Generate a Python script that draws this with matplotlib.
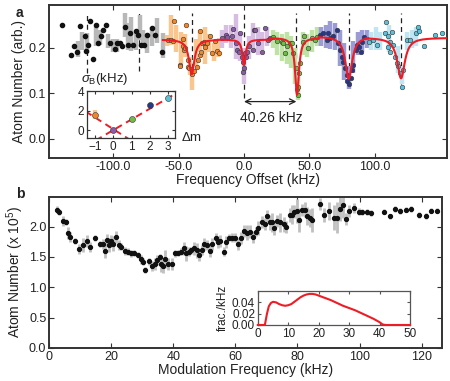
import numpy as np
import matplotlib
matplotlib.use("Agg")
import matplotlib.pyplot as plt

plt.rcParams['font.family'] = ['Liberation Sans', 'DejaVu Sans']
plt.rcParams['mathtext.fontset'] = 'custom'
plt.rcParams['mathtext.rm'] = 'Liberation Sans'
plt.rcParams['mathtext.it'] = 'Liberation Sans:italic'

# ---------------- Panel a data ----------------
bk_x = [-139, -132.5, -130, -127.4, -125.4, -121.6, -120.8, -119, -117.7, -115.7, -113.4, -111.4,
        -109.3, -107.5, -105.5, -102.4, -98.6, -96.8, -94.8, -93.3, -91, -88.7, -87, -85, -82.8,
        -81, -79, -76.5, -74.4, -70.6, -68, -63]
bk_y = [0.251, 0.185, 0.203, 0.19, 0.247, 0.225, 0.192, 0.207, 0.258, 0.175, 0.25, 0.21,
        0.225, 0.24, 0.251, 0.21, 0.197, 0.21, 0.21, 0.204, 0.245, 0.207, 0.232, 0.206, 0.236,
        0.229, 0.207, 0.207, 0.229, 0.243, 0.229, 0.19]
bkb_x = [-127, -123.5, -120, -113, -110, -104, -100.5, -97, -91, -88.5, -86, -82.5, -79.5, -77, -74.4, -70.5, -66.8, -62.2]
bkb_c = [0.197, 0.215, 0.21, 0.225, 0.223, 0.215, 0.205, 0.205, 0.25, 0.225, 0.23, 0.215, 0.245, 0.22, 0.21, 0.225, 0.238, 0.205]
bkb_e = [0.018, 0.02, 0.022, 0.02, 0.017, 0.016, 0.015, 0.015, 0.026, 0.03, 0.037, 0.02, 0.028, 0.018, 0.022, 0.02, 0.028, 0.028]

or_x = [-58.3, -56, -54, -53.5, -49, -48.7, -47, -46.4, -46, -45, -44.6, -43, -42.6, -41.8, -40,
        -38.5, -36, -35.4, -34, -33.6, -33, -32, -30.4, -29.8, -28.5, -26, -24.7, -22, -20.4, -18.9]
or_y = [0.218, 0.217, 0.215, 0.259, 0.162, 0.16, 0.219, 0.204, 0.196, 0.199, 0.25, 0.158, 0.173,
        0.155, 0.142, 0.15, 0.158, 0.174, 0.184, 0.236, 0.191, 0.21, 0.213, 0.201, 0.21, 0.225,
        0.188, 0.215, 0.193, 0.189]
orb_x = [-59, -55.5, -52, -48.5, -45, -41.5, -39.5, -37, -33.5, -30, -26.5, -23, -20]
orb_c = [0.215, 0.24, 0.22, 0.2, 0.205, 0.16, 0.128, 0.19, 0.215, 0.205, 0.21, 0.19, 0.2]
orb_e = [0.012, 0.033, 0.03, 0.035, 0.025, 0.02, 0.02, 0.03, 0.025, 0.04, 0.02, 0.02, 0.02]

pu_x = [-17, -14, -12.7, -9.4, -8.2, -6, -5.1, -4.1, -3.1, -1.8, -1, -0.5, 0.2, 0.8, 1.5, 2, 4,
        7.1, 7.6, 8.4, 11, 13.5, 16, 18.6, 20]
pu_y = [0.222, 0.228, 0.224, 0.226, 0.241, 0.21, 0.195, 0.191, 0.233, 0.18, 0.169, 0.146, 0.156,
        0.188, 0.18, 0.191, 0.205, 0.195, 0.24, 0.24, 0.21, 0.191, 0.243, 0.217, 0.222]
pub_x = [-17, -13.5, -10, -6.5, -3, 0, 3.5, 7, 10.5, 14, 17.5]
pub_c = [0.22, 0.23, 0.225, 0.225, 0.2, 0.16, 0.2, 0.225, 0.215, 0.215, 0.225]
pub_e = [0.02, 0.02, 0.025, 0.05, 0.03, 0.04, 0.025, 0.03, 0.03, 0.02, 0.02]

gr_x = [22.4, 25, 28.8, 30, 31.3, 32.6, 35, 36.5, 37.2, 39.5, 40.3, 41, 41.5, 42.3, 42.8, 44.9,
        45.9, 48.7, 51.7, 54.3, 56]
gr_y = [0.223, 0.215, 0.213, 0.21, 0.188, 0.204, 0.21, 0.21, 0.188, 0.155, 0.109, 0.114, 0.096,
        0.144, 0.166, 0.213, 0.226, 0.199, 0.221, 0.217, 0.224]
grb_x = [22, 25.5, 29, 32.5, 36, 39, 41, 45, 48.5, 52, 55.5]
grb_c = [0.22, 0.21, 0.2, 0.2, 0.19, 0.16, 0.11, 0.21, 0.205, 0.215, 0.225]
grb_e = [0.02, 0.025, 0.03, 0.035, 0.035, 0.04, 0.025, 0.025, 0.025, 0.025, 0.02]

bl_x = [58, 60.5, 63.2, 64.5, 65.7, 68, 70.8, 72.1, 73.4, 74.7, 76, 77.2, 78.5, 79, 80.5, 81.6,
        82.3, 83.6, 85.6, 86.6, 88.2, 89.2, 90, 91.7]
bl_y = [0.227, 0.232, 0.218, 0.232, 0.221, 0.225, 0.24, 0.21, 0.195, 0.18, 0.169, 0.155, 0.14,
        0.127, 0.12, 0.133, 0.151, 0.162, 0.195, 0.206, 0.202, 0.191, 0.213, 0.224]
blb_x = [59, 62.5, 66, 69.5, 73, 76.5, 80, 83.5, 87, 90.5, 94]
blb_c = [0.225, 0.225, 0.228, 0.225, 0.2, 0.17, 0.135, 0.18, 0.21, 0.215, 0.22]
blb_e = [0.02, 0.025, 0.03, 0.03, 0.04, 0.04, 0.025, 0.035, 0.025, 0.025, 0.02]

cy_x = [95.8, 98.4, 102, 107.8, 108.6, 110.3, 110.3, 111.6, 111.6, 112.9, 114.1, 115.4, 116.7,
        118, 119.3, 120.6, 121.8, 124.4, 127, 131.5, 132.8, 134, 137.6, 146, 151]
cy_y = [0.213, 0.218, 0.207, 0.233, 0.257, 0.226, 0.202, 0.213, 0.191, 0.235, 0.206, 0.18, 0.167,
        0.16, 0.144, 0.114, 0.151, 0.217, 0.217, 0.233, 0.246, 0.237, 0.204, 0.228, 0.232]
cyb_x = [97, 100.5, 104, 111, 117.5, 121, 124.5, 128, 131.5]
cyb_c = [0.215, 0.22, 0.215, 0.22, 0.175, 0.14, 0.215, 0.22, 0.225]
cyb_e = [0.02, 0.025, 0.02, 0.03, 0.03, 0.02, 0.02, 0.02, 0.02]

# Lorentzian fit parameters per resonance: center, baseline, minimum, half-width, range
fit_center = [-40, 0, 40.5, 80, 120]
fit_base = [0.218, 0.218, 0.222, 0.225, 0.222]
fit_min = [0.142, 0.162, 0.097, 0.132, 0.133]
fit_hw = [2.5, 1.5, 1.8, 3.2, 3.5]
fit_lo = [-62, -20, 20, 57, 93]
fit_hi = [-20, 20, 57, 95, 155]

res_lines = [-120, -80, -40, 0, 40, 80, 120]
res_bottom = [0.145, 0.15, 0.135, 0.09, 0.1, 0.118, 0.12]

# inset a
dm = [-1, 0, 1, 2, 3]
sigB = [1.57, 0.05, 1.17, 2.57, 3.33]
sigB_err = [0.45, 0.0, 0.0, 0.0, 0.0]

# ---------------- Panel b data ----------------
mod_f = [2.4, 3.2, 4.5, 5.4, 6.1, 6.7, 8.4, 9.7, 10.8, 12.1, 13.2, 14.9, 16.4, 17.3, 18.1, 18.6,
         19.4, 20.1, 20.7, 21.4, 22.4, 23.2, 24.3, 25.4, 26.4, 27.5, 28.6, 29.7, 30.4, 31.0, 32.1,
         33.2, 34.0, 34.7, 35.6, 36.1, 36.7, 37.4, 38.3, 39.7, 40.5, 41.5, 42.4, 43.4, 44.2, 45.1,
         45.8, 46.7, 47.5, 48.3, 49.1, 49.8, 50.7, 51.8, 52.6, 53.7, 54.5, 55.2, 56.3, 57.0, 58.0,
         58.8, 59.9, 61.0, 61.7, 62.8, 63.9, 64.7, 65.6, 66.7, 67.4, 68.5, 69.4, 70.1, 71.0, 71.7,
         72.5, 73.4, 74.4, 75.5, 76.4, 77.5, 78.2, 79.0, 79.8, 80.4, 81.4, 82.5, 83.1, 83.9, 84.7,
         87.2, 88.5, 90.1, 91.7, 92.8, 93.6, 94.7, 95.5, 96.5, 98.2, 99.8, 100.9, 102.3, 103.8,
         107.9, 109.8, 111.3, 113.0, 114.9, 116.7, 119.2, 121.4, 123.0, 124.9]
atoms = [2.28, 2.24, 2.09, 2.08, 1.89, 1.83, 1.76, 1.63, 1.70, 1.76, 1.66, 1.81, 1.71, 1.71, 1.60,
         1.78, 1.70, 1.76, 1.72, 1.83, 1.70, 1.67, 1.60, 1.59, 1.56, 1.56, 1.53, 1.46, 1.42, 1.29,
         1.43, 1.35, 1.39, 1.45, 1.50, 1.38, 1.35, 1.46, 1.38, 1.38, 1.56, 1.56, 1.59, 1.64, 1.56,
         1.59, 1.61, 1.64, 1.61, 1.53, 1.62, 1.71, 1.70, 1.60, 1.71, 1.82, 1.74, 1.76, 1.59, 1.75,
         1.82, 1.82, 1.82, 1.72, 1.81, 1.93, 1.90, 1.92, 1.83, 1.92, 1.98, 2.07, 2.04, 2.17, 2.07,
         2.07, 1.98, 2.09, 2.07, 2.04, 2.00, 2.19, 2.20, 2.25, 2.26, 2.11, 2.28, 2.28, 2.17, 2.14,
         2.11, 2.37, 2.19, 2.26, 2.15, 2.15, 2.29, 2.35, 2.13, 2.26, 2.31, 2.25, 2.24, 2.24, 2.22,
         2.25, 2.17, 2.29, 2.26, 2.28, 2.29, 2.19, 2.18, 2.26, 2.26]
atoms_err = [0.06, 0.05, 0.08, 0.05, 0.1, 0.08, 0.05, 0.08, 0.12, 0.1, 0.08, 0.05, 0.05, 0.08, 0.12,
             0.1, 0.12, 0.1, 0.12, 0.1, 0.08, 0.06, 0.06, 0.05, 0.06, 0.05, 0.05, 0.08, 0.06, 0.05,
             0.06, 0.08, 0.1, 0.08, 0.05, 0.12, 0.12, 0.15, 0.1, 0.1, 0.06, 0.05, 0.06, 0.1, 0.12,
             0.08, 0.06, 0.1, 0.12, 0.1, 0.08, 0.1, 0.08, 0.1, 0.1, 0.08, 0.1, 0.1, 0.08, 0.1,
             0.06, 0.08, 0.08, 0.1, 0.1, 0.1, 0.12, 0.1, 0.1, 0.08, 0.12, 0.1, 0.1, 0.1, 0.12,
             0.15, 0.12, 0.1, 0.15, 0.12, 0.1, 0.12, 0.15, 0.1, 0.2, 0.2, 0.1, 0.12, 0.15, 0.15,
             0.2, 0.1, 0.12, 0.15, 0.2, 0.25, 0.2, 0.2, 0.1, 0.1, 0.08, 0.05, 0.05, 0.05, 0.05,
             0.04, 0.04, 0.05, 0.05, 0.04, 0.05, 0.05, 0.05, 0.04, 0.04]

# inset b curve
dist_f = [0, 2.3, 3.0, 3.6, 4.3, 5.0, 6.0, 7.0, 8.0, 9.0, 10.0, 11.0, 12.0, 13.0, 14.0, 15.0,
          16.0, 17.0, 18.0, 19.0, 20.0, 22.0, 24.0, 26.0, 28.0, 30.0, 32.0, 34.0, 36.0, 38.0,
          40.0, 41.0, 42.0, 50.0]
dist_v = [0, 0, 0.020, 0.033, 0.039, 0.041, 0.040, 0.037, 0.035, 0.034, 0.035, 0.037, 0.041,
          0.045, 0.049, 0.052, 0.054, 0.055, 0.055, 0.054, 0.052, 0.048, 0.044, 0.039, 0.034,
          0.030, 0.026, 0.021, 0.016, 0.011, 0.005, 0.001, 0, 0]

# ---------------- Drawing ----------------
fig = plt.figure(figsize=(4.5, 3.81), dpi=100)
TXT = '#222222'
FS = 9
LFS = 10

def style_ax(ax, lw=1.4, col='#333333', tl=3.5, fs=FS):
    for s in ax.spines.values():
        s.set_linewidth(lw)
        s.set_color(col)
    ax.tick_params(direction='in', top=True, right=True, length=tl, width=0.8,
                   labelsize=fs, colors=col, labelcolor=TXT, pad=2)

axa = fig.add_axes([0.109, 0.585, 0.884, 0.402])
style_ax(axa)

for x0, y1 in zip(res_lines, res_bottom):
    axa.plot([x0, x0], [y1, 0.276], ls=(0, (4, 3)), color='#222222', lw=0.9, zorder=1)

groups = [
    (bkb_x, bkb_c, bkb_e, bk_x, bk_y, '#b8b8b8', '#111111'),
    (orb_x, orb_c, orb_e, or_x, or_y, '#fbc68e', '#f0862a'),
    (pub_x, pub_c, pub_e, pu_x, pu_y, '#d7bde2', '#8a5aa6'),
    (grb_x, grb_c, grb_e, gr_x, gr_y, '#bfe2a6', '#6bbd46'),
    (blb_x, blb_c, blb_e, bl_x, bl_y, '#9b9bd6', '#27388c'),
    (cyb_x, cyb_c, cyb_e, cy_x, cy_y, '#bfe6f2', '#5cc0d6'),
]
for bx, bc, be, px, py, bcol, pcol in groups:
    axa.errorbar(bx, bc, yerr=be, fmt='none', ecolor=bcol, elinewidth=3.2, capsize=0, zorder=2)
for bx, bc, be, px, py, bcol, pcol in groups:
    if pcol == '#111111':
        axa.plot(px, py, 'o', ms=3.0, color=pcol, mec=pcol, zorder=4)
    else:
        axa.plot(px, py, 'o', ms=3.3, color=pcol, mec='#333333', mew=0.4, zorder=4)

for c, b, m, w, lo, hi in zip(fit_center, fit_base, fit_min, fit_hw, fit_lo, fit_hi):
    xx = np.linspace(lo, hi, 400)
    yy = b - (b - m) / (1 + ((xx - c) / w) ** 2)
    axa.plot(xx, yy, color='#ee1c25', lw=1.5, zorder=5)

axa.annotate('', xy=(0, 0.082), xytext=(40, 0.082),
             arrowprops=dict(arrowstyle='<->', color='#222222', lw=0.9, shrinkA=0, shrinkB=0))
axa.text(21, 0.047, '40.26 kHz', ha='center', va='center', fontsize=10, color=TXT)

axa.set_xlim(-149, 155)
axa.set_ylim(-0.042, 0.294)
axa.set_xticks([-100, -50, 0, 50, 100])
axa.set_xticklabels(['-100.0', '-50.0', '0.0', '50.0', '100.0'])
axa.set_yticks([0.0, 0.1, 0.2])
axa.set_yticklabels(['0.0', '0.1', '0.2'])
axa.set_xlabel('Frequency Offset (kHz)', fontsize=LFS, color=TXT, labelpad=0)
axa.set_ylabel('Atom Number (arb.)', fontsize=LFS, color=TXT, labelpad=2)
fig.text(0.035, 0.965, 'a', fontsize=10, fontweight='bold', color=TXT, ha='left', va='center')

# inset a
axi = fig.add_axes([0.193, 0.638, 0.196, 0.123])
style_ax(axi, lw=0.9, col='#333333', tl=2.5, fs=8.5)
xl = np.array([-1.5, 3.4])
axi.plot(xl, -1.2 * xl + 0.1, color='#ee1c25', lw=1.4, ls=(0, (3.5, 2.5)), zorder=1)
axi.plot(xl, 1.1 * xl, color='#ee1c25', lw=1.4, ls=(0, (3.5, 2.5)), zorder=1)
icols = ['#f0862a', '#8a5aa6', '#6bbd46', '#27388c', '#5cc0d6']
ebcols = ['#fbc68e', '#d7bde2', '#bfe2a6', '#9b9bd6', '#bfe6f2']
for x, y, e, c, ec in zip(dm, sigB, sigB_err, icols, ebcols):
    if e > 0:
        axi.errorbar([x], [y], yerr=[e], fmt='none', ecolor=ec, elinewidth=3, zorder=2)
    axi.plot([x], [y], 'o', ms=4.3, color=c, mec='#333333', mew=0.4, zorder=3)
axi.set_xlim(-1.44, 3.37)
axi.set_ylim(-0.8, 4.0)
axi.set_xticks([-1, 0, 1, 2, 3])
axi.set_yticks([0, 2, 4])
axi.patch.set_alpha(0)
fig.text(0.18, 0.772, r'$\sigma_{\rm B}$(kHz)', fontsize=9.5, color=TXT, ha='left', va='bottom')
fig.text(0.402, 0.64, r'$\Delta$m', fontsize=9.5, color=TXT, ha='left', va='center')

# panel b
axb = fig.add_axes([0.109, 0.087, 0.873, 0.396])
style_ax(axb)
axb.errorbar(mod_f, atoms, yerr=atoms_err, fmt='none', ecolor='#c0c0c0', elinewidth=2.0, capsize=0, zorder=2)
axb.plot(mod_f, atoms, 'o', ms=2.8, color='#111111', zorder=3, ls='none')
axb.set_xlim(0, 126.5)
axb.set_ylim(0, 2.49)
axb.set_xticks([0, 20, 40, 60, 80, 100, 120])
axb.set_yticks([0, 0.5, 1.0, 1.5, 2.0])
axb.set_yticklabels(['0.0', '0.5', '1.0', '1.5', '2.0'])
axb.set_xlabel('Modulation Frequency (kHz)', fontsize=LFS, color=TXT, labelpad=0)
axb.set_ylabel(r'Atom Number (x 10$^5$)', fontsize=LFS, color=TXT, labelpad=2)
fig.text(0.035, 0.492, 'b', fontsize=10, fontweight='bold', color=TXT, ha='left', va='center')

# inset b
axj = fig.add_axes([0.573, 0.147, 0.338, 0.089])
style_ax(axj, lw=0.9, col='#555555', tl=2.5, fs=8.5)
axj.plot(dist_f, dist_v, color='#ee1c25', lw=1.5, zorder=3, clip_on=False)
axj.set_xlim(0, 50)
axj.set_ylim(0, 0.06)
axj.set_xticks([0, 10, 20, 30, 40, 50])
axj.set_yticks([0, 0.02, 0.04])
axj.set_yticklabels(['0.00', '0.02', '0.04'])
axj.set_ylabel('frac./kHz', fontsize=8.5, color=TXT, labelpad=2)

fig.savefig('out.png', dpi=100)
